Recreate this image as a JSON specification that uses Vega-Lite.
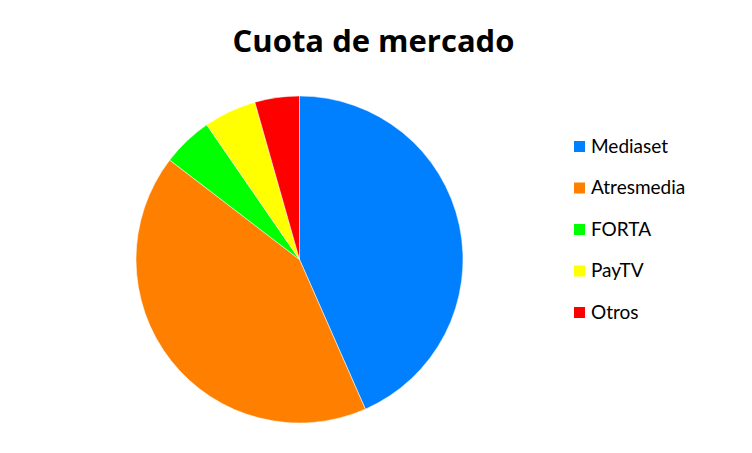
{
  "$schema": "https://vega.github.io/schema/vega-lite/v6.json",
  "description": "Cuota de mercado",
  "autosize": "none",
  "padding": {"left": 136, "top": 96, "right": 289, "bottom": 30},
  "width": 327,
  "height": 327,
  "background": "white",
  "title": {
    "text": "Cuota de mercado",
    "font": "Open Sans",
    "fontWeight": "bold",
    "fontSize": 31,
    "color": "black",
    "anchor": "middle",
    "baseline": "alphabetic",
    "offset": 12,
    "dx": 74
  },
  "data": {
    "values": [
      {"canal": "Mediaset", "cuota": 43.4, "orden": 1},
      {"canal": "Atresmedia", "cuota": 42.0, "orden": 2},
      {"canal": "FORTA", "cuota": 5.0, "orden": 3},
      {"canal": "PayTV", "cuota": 5.2, "orden": 4},
      {"canal": "Otros", "cuota": 4.4, "orden": 5}
    ]
  },
  "mark": {"type": "arc", "stroke": "white", "strokeWidth": 0.5},
  "encoding": {
    "theta": {"field": "cuota", "type": "quantitative", "stack": true},
    "order": {"field": "orden", "type": "quantitative"},
    "color": {
      "field": "canal",
      "type": "nominal",
      "sort": null,
      "scale": {
        "domain": ["Mediaset", "Atresmedia", "FORTA", "PayTV", "Otros"],
        "range": ["#0080FF", "#FF8000", "#00FF00", "#FFFF00", "#FF0000"]
      },
      "legend": {
        "title": null,
        "orient": "none",
        "legendX": 434,
        "legendY": 41,
        "symbolType": "square",
        "symbolSize": 121,
        "symbolStrokeWidth": 0,
        "labelFont": "Lato",
        "labelFontSize": 19,
        "labelColor": "black",
        "labelOffset": 2,
        "rowPadding": 21.5
      }
    }
  },
  "config": {"view": {"stroke": null}}
}
